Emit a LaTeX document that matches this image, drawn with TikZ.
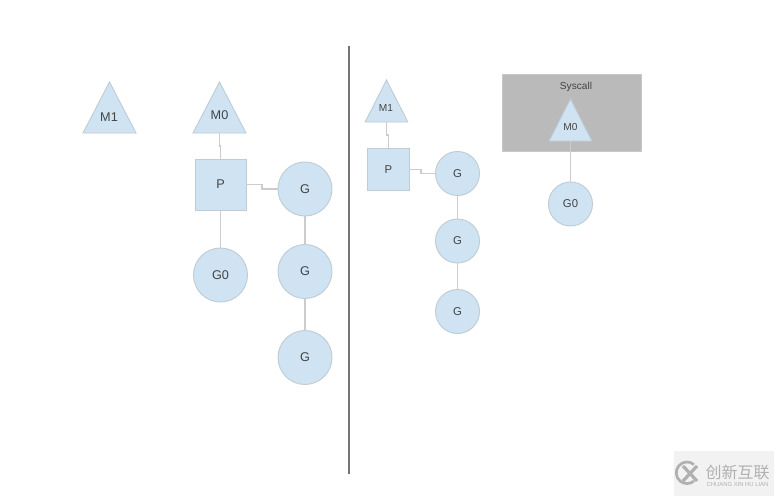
\documentclass[tikz,border=0pt]{standalone}
\usepackage{fontspec}
\setmainfont{Liberation Sans}
\newfontfamily\cjkfont{Noto Sans CJK SC}
\usetikzlibrary{shapes.geometric}
\definecolor{nodefill}{HTML}{CFE3F2}
\definecolor{nodeedge}{HTML}{BFCCD6}
\definecolor{linkcol}{HTML}{CCCCCC}
\definecolor{inkcol}{HTML}{444444}
\definecolor{markcol}{HTML}{B0B0B0}
\tikzset{
  every node/.style={outer sep=0pt,inner sep=0pt,font=\fontsize{9.5}{11}\selectfont,text=inkcol},
  bigtext/.style={font=\fontsize{9.5}{11}\selectfont,text=inkcol},
  smalltext/.style={font=\fontsize{7.6}{9}\selectfont,text=inkcol},
  shapebase/.style={draw=nodeedge,line width=.7pt,fill=nodefill},
  bigcirc/.style={shapebase,circle,minimum size=40.5pt},
  smallcirc/.style={shapebase,circle,minimum size=33pt},
  bigsq/.style={shapebase,rectangle,minimum size=38.25pt},
  smallsq/.style={shapebase,rectangle,minimum size=32pt},
  bigtri/.style={shapebase,isosceles triangle,isosceles triangle stretches,shape border rotate=90,minimum width=39.75pt,minimum height=38.25pt,anchor=lower side},
  smalltri/.style={shapebase,isosceles triangle,isosceles triangle stretches,shape border rotate=90,minimum width=32pt,minimum height=31.5pt,anchor=lower side},
  link/.style={draw=linkcol,line width=.8pt},
}
\begin{document}
\begin{tikzpicture}[x=.75pt,y=-.75pt]
\useasboundingbox (0,0) rectangle (774,496);
\fill[white] (0,0) rectangle (774,496);
% watermark
\node[fill=black!5,minimum width=75pt,minimum height=33.75pt,anchor=north west] (wm) at (674,451) {};
\draw[markcol,line width=2pt] (694,464.5) arc (-50:-310:10.8);
\draw[markcol,line width=2.4pt] (683,466) -- (697,481) (683,481) -- (697,466);
\node[text=markcol,font=\cjkfont\fontsize{12}{12}\selectfont] (wmtext) at (737.5,472.5) {创新互联};
\node[text=markcol,font=\fontsize{4.4}{5}\selectfont] (wmsub) at (737.5,484) {CHUANG XIN HU LIAN};
% divider
\coordinate (divtop) at (349,46);
\coordinate (divbot) at (349,474);
\draw[black!55,line width=1.5pt] (divtop) -- (divbot);
% left panel
\node[bigtri] (lm1) at (109.5,133) {};
\node[bigtext] (lm1t) at (109,117) {M1};
\node[bigtri] (lm0) at (219.5,133) {};
\node[bigtext] (lm0t) at (219.5,115.5) {M0};
\node[bigsq] (lp) at (220.5,184.5) {P};
\node[bigcirc] (lg0) at (220.5,275) {G0};
\node[bigcirc] (lg1) at (305,189) {G};
\node[bigcirc] (lg2) at (305,271.5) {G};
\node[bigcirc] (lg3) at (305,357.5) {G};
\draw[link] (lm0.lower side) -- ++(0,13) -| (lp.north);
\draw[link] (lp.east |- 0,184.5) -- (262,184.5) -- (262,189) -- (lg1.west);
\draw[link] (lp.south) -- (lg0.north);
\draw[link] (lg1.south) -- (lg2.north);
\draw[link] (lg2.south) -- (lg3.north);
% right panel
\node[draw=black!22,line width=.5pt,fill=black!27,minimum width=104.25pt,minimum height=57.75pt,anchor=north west] (sys) at (502,74) {};
\node[smalltext] (syst) at (576,87) {Syscall};
\node[smalltri] (rm1) at (386.5,122) {};
\node[smalltext] (rm1t) at (386,108) {M1};
\node[smallsq] (rp) at (388.5,169.5) {\fontsize{8.5}{10}\selectfont P};
\node[smallcirc] (rg1) at (457.5,173.5) {\fontsize{8.5}{10}\selectfont G};
\node[smallcirc] (rg2) at (457.5,241) {\fontsize{8.5}{10}\selectfont G};
\node[smallcirc] (rg3) at (457.5,311.5) {\fontsize{8.5}{10}\selectfont G};
\node[smalltri] (rm0) at (570.5,141) {};
\node[smalltext] (rm0t) at (570.5,127) {M0};
\node[smallcirc] (rg0) at (570.5,204) {\fontsize{8.5}{10}\selectfont G0};
\draw[link] (rm1.lower side) -- ++(0,13) -| (rp.north);
\draw[link] (rp.east |- 0,169.5) -- (421,169.5) -- (421,173.5) -- (rg1.west);
\draw[link] (rg1.south) -- (rg2.north);
\draw[link] (rg2.south) -- (rg3.north);
\draw[link] (rm0.lower side) -- (rg0.north);
\end{tikzpicture}
\end{document}
